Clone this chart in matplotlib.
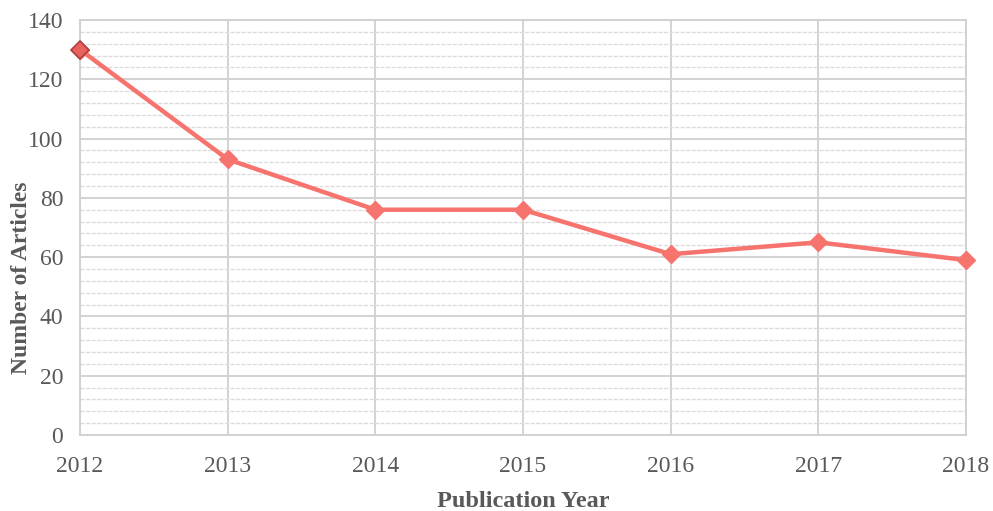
import matplotlib
matplotlib.use("Agg")
from matplotlib import pyplot as plt
from matplotlib.ticker import MultipleLocator

years = [2012, 2013, 2014, 2015, 2016, 2017, 2018]
articles = [130, 93, 76, 76, 61, 65, 59]

plt.rcParams["font.family"] = ["Liberation Serif", "DejaVu Serif"]

fig = plt.figure(figsize=(9.93, 5.11), dpi=100)
ax = fig.add_axes([0.0806, 0.1487, 0.8922, 0.8122])

ax.plot(years, articles, color="#F7736E", linewidth=3.2, marker="D", markersize=9,
        markerfacecolor="#F7736E", markeredgecolor="#F7736E", zorder=3, clip_on=False)
# first point highlighted with a darker edge
ax.plot(years[:1], articles[:1], linestyle="none", marker="D", markersize=9,
        markerfacecolor="#E8625E", markeredgecolor="#B04040", markeredgewidth=1.2,
        zorder=4, clip_on=False)

ax.set_xlim(2012, 2018)
ax.set_ylim(0, 140)
ax.set_xticks(years)
ax.yaxis.set_major_locator(MultipleLocator(20))
ax.yaxis.set_minor_locator(MultipleLocator(4))

ax.grid(which="major", axis="both", color="#D0D0D0", linewidth=1.3)
ax.grid(which="minor", axis="y", color="#DCDCDC", linewidth=1.0, linestyle=(0, (3, 1)))
ax.set_axisbelow(True)

for s in ax.spines.values():
    s.set_color("#D0D0D0")
    s.set_linewidth(1.3)

ax.tick_params(axis="both", which="both", length=0, labelsize=17, colors="#595959")
ax.tick_params(axis="x", pad=15)
ax.tick_params(axis="y", pad=12)

ax.set_xlabel("Publication Year", fontsize=17.5, fontweight="bold", color="#595959")
ax.xaxis.set_label_coords(0.5, -0.135)
ax.set_ylabel("Number of Articles", fontsize=17, fontweight="bold", color="#595959")
ax.yaxis.set_label_coords(-0.054, 0.378)

fig.savefig("out.png", dpi=100)
